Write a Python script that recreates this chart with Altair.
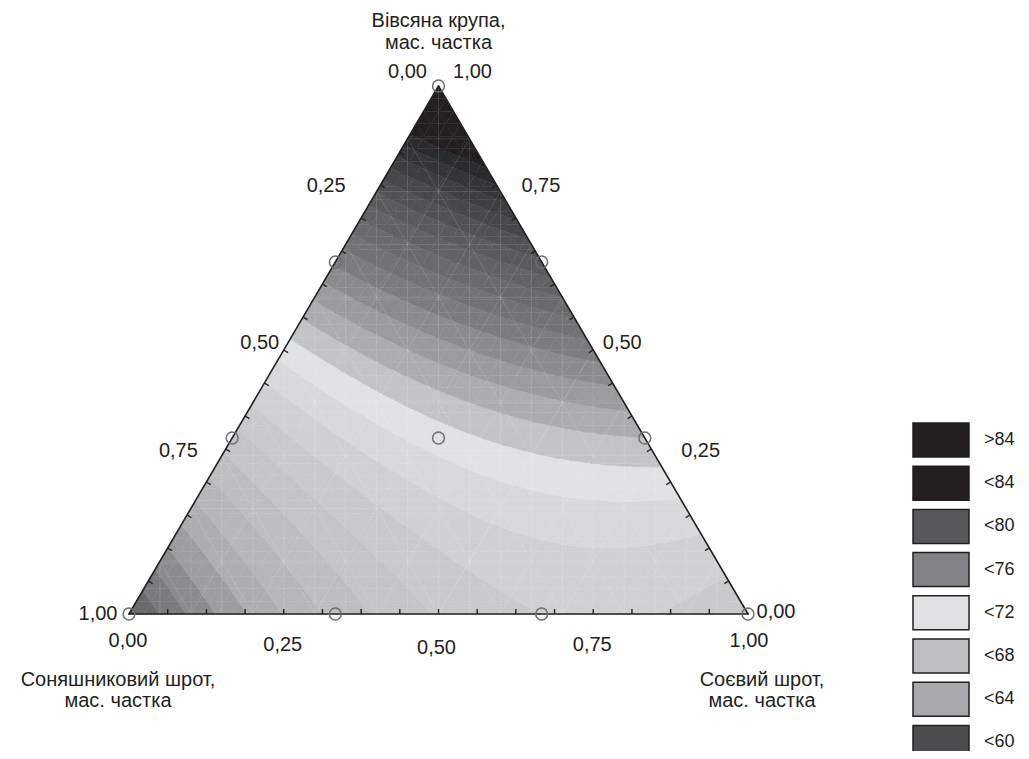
import numpy as np
import pandas as pd
import altair as alt

alt.data_transformers.disable_max_rows()

# ---------------- data ----------------
# design points (mass fractions) and the response read at each of them
oat_frac = [1.0, 0.0, 0.0, 2/3, 1/3, 2/3, 1/3, 0.0, 0.0, 1/3]
sun_frac = [0.0, 1.0, 0.0, 1/3, 2/3, 0.0, 0.0, 2/3, 1/3, 1/3]
soy_frac = [0.0, 0.0, 1.0, 0.0, 0.0, 1/3, 2/3, 1/3, 2/3, 1/3]
response = [91.0, 59.8, 68.3, 76.2, 67.6, 80.8, 73.0, 66.3, 69.0, 71.5]

# contour bands (step 1): upper limit of each band and the grey read for it
band_upper = [59, 60, 61, 62, 63, 64, 65, 66, 67, 68, 69, 70, 71, 72,
              73, 74, 75, 76, 77, 78, 79, 80, 81, 82, 83, 84, 85, 86, 87]
band_grey = [0x4c, 0x55, 0x6a, 0x7a, 0x8a, 0x9c, 0xac, 0xb5, 0xbc, 0xc3, 0xc8, 0xcf, 0xd7, 0xe0,
             0xc2, 0xab, 0x9a, 0x8a, 0x7b, 0x71, 0x69, 0x61, 0x59, 0x50, 0x46, 0x3d, 0x33, 0x29, 0x23]

legend_labels = [">84", "<84", "<80", "<76", "<72", "<68", "<64", "<60"]
legend_colors = ["#231f20", "#231f20", "#58595b", "#808285",
                 "#e0e1e3", "#bcbec0", "#a7a9ac", "#4d4d4f"]

tick_values = [0.0, 0.25, 0.5, 0.75, 1.0]
tick_labels = ["0,00", "0,25", "0,50", "0,75", "1,00"]

title_oat = ["Вівсяна крупа,", "мас. частка"]
title_sun = ["Соняшниковий шрот,", "мас. частка"]
title_soy = ["Соєвий шрот,", "мас. частка"]

# ---------------- layout (page pixels) ----------------
X0, Y0, SIDE, HGT = 129.0, 614.0, 619.0, 528.0
INK = "#231f20"
FONT = "Liberation Sans"


def to_xy(a, c):
    a = np.asarray(a, float)
    c = np.asarray(c, float)
    return X0 + SIDE * (c + a / 2.0), Y0 - HGT * a


# ---------------- Scheffe full cubic model through the design points ----------------
def basis(a, b, c):
    a, b, c = (np.asarray(v, float) for v in (a, b, c))
    return np.stack([a, b, c, a * b, a * c, b * c,
                     a * b * (a - b), a * c * (a - c), b * c * (b - c), a * b * c], -1)


coef = np.linalg.lstsq(basis(oat_frac, sun_frac, soy_frac), np.array(response), rcond=None)[0]


def model(a, b, c):
    return basis(a, b, c) @ coef


def grey_hex(g):
    g = int(round(g))
    if g <= 0x24:
        return INK
    return "#%02x%02x%02x" % (g, min(g + 1, 255), min(g + 3, 255))


# band k covers [edges[k], edges[k+1]); outer bands open-ended
edges = [-1e9] + [u for u in band_upper[:-1]] + [1e9]
band_names = [str(u) for u in band_upper]
band_colors = [grey_hex(g) for g in band_grey]

# ---------------- filled contour bands (marching triangles) ----------------
N = 42


def clip_half(pts, f):
    out = []
    n = len(pts)
    for i in range(n):
        P, Q = pts[i], pts[(i + 1) % n]
        fp, fq = f(P[2]), f(Q[2])
        if fp >= 0:
            out.append(P)
        if (fp >= 0) != (fq >= 0):
            t = fp / (fp - fq)
            out.append(tuple(P[j] + t * (Q[j] - P[j]) for j in range(3)))
    return out


def node(i, j):
    a, c = i / N, j / N
    b = max(0.0, 1.0 - a - c)
    x, y = to_xy(a, c)
    return (float(x), float(y), float(model(a, b, c)))


nodes = {}
for i in range(N + 1):
    for j in range(N + 1 - i):
        nodes[(i, j)] = node(i, j)

tris = []
for i in range(N):
    for j in range(N - i):
        tris.append([nodes[(i, j)], nodes[(i, j + 1)], nodes[(i + 1, j)]])
        if i + j + 2 <= N:
            tris.append([nodes[(i + 1, j)], nodes[(i, j + 1)], nodes[(i + 1, j + 1)]])

rows = []
pid = 0
for tri in tris:
    vs = [p[2] for p in tri]
    for k in range(len(band_names)):
        lo, hi = edges[k], edges[k + 1]
        if max(vs) < lo or min(vs) >= hi:
            continue
        poly = clip_half(tri, lambda v, lo=lo: v - lo)
        if len(poly) >= 3:
            poly = clip_half(poly, lambda v, hi=hi: hi - v)
        if len(poly) < 3:
            continue
        for o, p in enumerate(poly):
            rows.append({"pid": pid, "o": o, "x": p[0], "y": p[1], "band": band_names[k]})
        pid += 1
bands_df = pd.DataFrame(rows)

xs = alt.Scale(domain=[8, 1021])
ys = alt.Scale(domain=[8, 751], reverse=True)
band_scale = alt.Scale(domain=band_names, range=band_colors)

bands = alt.Chart(bands_df).mark_line(filled=True, strokeWidth=0.7, interpolate="linear").encode(
    x=alt.X("x:Q", scale=xs, axis=None),
    y=alt.Y("y:Q", scale=ys, axis=None),
    detail="pid:N",
    order="o:Q",
    color=alt.Color("band:N", scale=band_scale, legend=None),
    stroke=alt.Stroke("band:N", scale=band_scale, legend=None),
)

# ---------------- faint mesh lines ----------------
seg = []
for k in range(1, 10):
    t = k / 10
    x1, y1 = to_xy(t, 0.0); x2, y2 = to_xy(t, 1 - t)
    seg.append((x1, y1, x2, y2))
    x1, y1 = to_xy(0.0, t); x2, y2 = to_xy(1 - t, t)
    seg.append((x1, y1, x2, y2))
    x1, y1 = to_xy(0.0, 1 - t); x2, y2 = to_xy(1 - t, 0.0)
    seg.append((x1, y1, x2, y2))
for k in range(1, 20):
    u = k / 20
    a_top = 2 * u if u <= 0.5 else 2 * (1 - u)
    x1, y1 = to_xy(0.0, u); x2, y2 = to_xy(a_top, u - a_top / 2)
    seg.append((x1, y1, x2, y2))
mesh_df = pd.DataFrame(seg, columns=["x", "y", "x2", "y2"])
mesh = alt.Chart(mesh_df).mark_rule(color="white", opacity=0.17, strokeWidth=0.8).encode(
    x=alt.X("x:Q", scale=xs), y=alt.Y("y:Q", scale=ys), x2="x2:Q", y2="y2:Q")

# ---------------- triangle outline and ticks ----------------
A = to_xy(1, 0); B = to_xy(0, 0); C = to_xy(0, 1)
out_df = pd.DataFrame([(*B, *C), (*B, *A), (*C, *A)], columns=["x", "y", "x2", "y2"])
outline = alt.Chart(out_df).mark_rule(color=INK, strokeWidth=1.6, strokeCap="round").encode(
    x=alt.X("x:Q", scale=xs), y=alt.Y("y:Q", scale=ys), x2="x2:Q", y2="y2:Q")

TL = 5.0
nl = np.array([0.863, 0.506])
nr = np.array([-0.863, 0.506])
tk = []
for k in range(1, 16):
    t = k / 16
    x, y = to_xy(0, t); tk.append((x, y, x, y - TL))
    x, y = to_xy(t, 0); tk.append((x, y, x + TL * nl[0], y + TL * nl[1]))
    x, y = to_xy(t, 1 - t); tk.append((x, y, x + TL * nr[0], y + TL * nr[1]))
tick_df = pd.DataFrame(tk, columns=["x", "y", "x2", "y2"])
ticks = alt.Chart(tick_df).mark_rule(color=INK, strokeWidth=1.4).encode(
    x=alt.X("x:Q", scale=xs), y=alt.Y("y:Q", scale=ys), x2="x2:Q", y2="y2:Q")

# ---------------- design points ----------------
px, py = to_xy(oat_frac, soy_frac)
pts_df = pd.DataFrame({"x": px, "y": py, "resp": response})
points = alt.Chart(pts_df).mark_point(shape="circle", filled=False, size=140,
                                      color="#6d6e71", strokeWidth=1.5, opacity=1).encode(
    x=alt.X("x:Q", scale=xs), y=alt.Y("y:Q", scale=ys))

# ---------------- tick labels and titles ----------------
nudge_bottom = [(-1, 27), (-1, 31), (-2, 34), (-1, 31), (1, 27)]
nudge_left = [(-31, -14), (-35, -32), (-24, -7), (-28, -31), (-31, 0)]
nudge_right = [(28, -2), (30, -31), (29, -7), (25, -32), (34, -14)]
lab = []
for t, s, nb, nlf, nr_ in zip(tick_values, tick_labels, nudge_bottom, nudge_left, nudge_right):
    x, y = to_xy(0, t); lab.append((s, x + nb[0], y + nb[1]))
    x, y = to_xy(1 - t, 0); lab.append((s, x + nlf[0], y + nlf[1]))
    x, y = to_xy(t, 1 - t); lab.append((s, x + nr_[0], y + nr_[1]))
for i, s in enumerate(title_oat):
    lab.append((s, A[0], A[1] - 65 + 22 * i))
for i, s in enumerate(title_sun):
    lab.append((s, B[0] - 11, B[1] + 66 + 21 * i))
for i, s in enumerate(title_soy):
    lab.append((s, C[0] + 14, C[1] + 66 + 21 * i))
lab_df = pd.DataFrame(lab, columns=["text", "x", "y"])
labels = alt.Chart(lab_df).mark_text(font=FONT, fontSize=20, color=INK, align="center",
                                     baseline="middle").encode(
    x=alt.X("x:Q", scale=xs), y=alt.Y("y:Q", scale=ys), text="text:N")

# ---------------- legend ----------------
leg_df = pd.DataFrame({"label": legend_labels, "col": legend_colors,
                       "i": list(range(len(legend_labels)))})
leg_df["x"] = 913.0
leg_df["x2"] = 969.0
leg_df["y"] = 423.0 + 43.2 * leg_df["i"]
leg_df["y2"] = leg_df["y"] + 34.0
leg_df["tx"] = 984.0
leg_df["ty"] = leg_df["y"] + 17.0
leg_scale = alt.Scale(domain=legend_labels, range=legend_colors)
leg_boxes = alt.Chart(leg_df).mark_rect(stroke=INK, strokeWidth=1.5).encode(
    x=alt.X("x:Q", scale=xs), x2="x2:Q", y=alt.Y("y:Q", scale=ys), y2="y2:Q",
    color=alt.Color("label:N", scale=leg_scale, legend=None))
leg_text = alt.Chart(leg_df).mark_text(font=FONT, fontSize=18, color=INK, align="left",
                                       baseline="middle").encode(
    x=alt.X("tx:Q", scale=xs), y=alt.Y("ty:Q", scale=ys), text="label:N")

chart = alt.layer(bands, mesh, outline, ticks, points, labels, leg_boxes, leg_text).resolve_scale(
    color="independent"
).properties(
    width=1013, height=743, padding=0, autosize=alt.AutoSizeParams(type="none")
).configure_view(stroke=None)

chart.save("out.html", embed_options={"renderer": "svg", "actions": False})
